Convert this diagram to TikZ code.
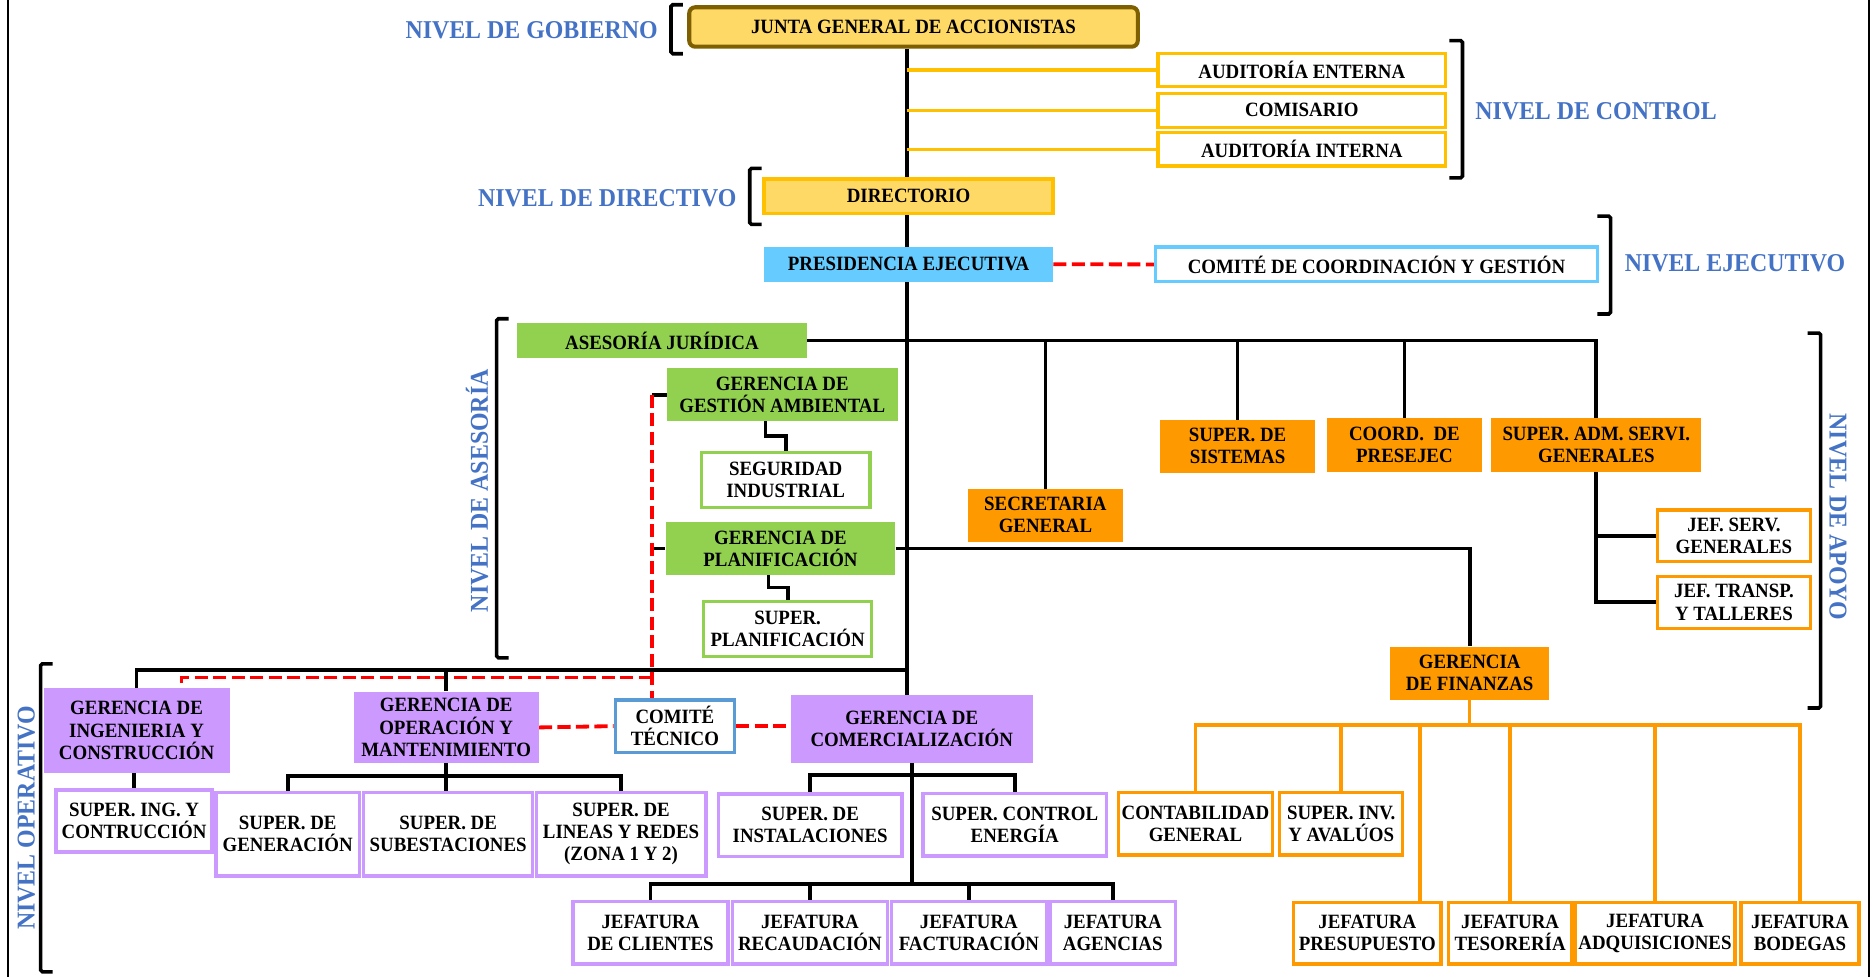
\documentclass[tikz,border=0pt]{standalone}
\usepackage{fontspec}
\setmainfont{Liberation Serif}[FakeStretch=0.93]
\usetikzlibrary{calc}
\pgfdeclarelayer{bg}
\pgfsetlayers{bg,main}
\definecolor{goldfillc}{HTML}{FFD966}
\definecolor{goldc}{HTML}{FFC000}
\definecolor{juntab}{HTML}{7F6000}
\definecolor{lblue}{HTML}{66CCFF}
\definecolor{tecblue}{HTML}{5B9BD5}
\definecolor{greenc}{HTML}{92D050}
\definecolor{orangec}{HTML}{FF9900}
\definecolor{lavc}{HTML}{CC99FF}
\definecolor{lvlblue}{HTML}{4472C4}
\definecolor{redc}{HTML}{FF0000}
\tikzset{
  base/.style={inner sep=0pt, align=center, text=black,
    font=\fontsize{17}{18.5}\selectfont\bfseries},
  juntabox/.style={base, fill=goldfillc, draw=juntab, line width=3.4pt, rounded corners=5pt},
  goldline/.style={base, fill=white, draw=goldc, line width=2.8pt},
  goldfill/.style={base, fill=goldfillc, draw=goldc, line width=2.8pt},
  bluefill/.style={base, fill=lblue},
  blueline/.style={base, fill=white, draw=lblue, line width=2.8pt},
  tecline/.style={base, fill=white, draw=tecblue, line width=2.8pt},
  greenfill/.style={base, fill=greenc},
  greenline/.style={base, fill=white, draw=greenc, line width=2.8pt},
  orfill/.style={base, fill=orangec},
  orline/.style={base, fill=white, draw=orangec, line width=2.8pt},
  lavfill/.style={base, fill=lavc},
  lavline/.style={base, fill=white, draw=lavc, line width=2.8pt},
  conn/.style={draw=black, line width=3.2pt},
  goldconn/.style={draw=goldc, line width=3pt},
  orconn/.style={draw=orangec, line width=3pt},
  dashconn/.style={draw=redc, line width=3.2pt, dash pattern=on 11pt off 4.5pt},
  brk/.style={draw=black, line width=3pt, rounded corners=1.5pt},
  lvl/.style={inner sep=0pt, text=lvlblue, font=\fontsize{21.5}{23}\selectfont\bfseries},
}
\newcommand\orgbox[7]{\node[#2, minimum width={#5-#3}, minimum height={#6-#4}] (#1) at ({(#3+#5)/2},{(#4+#6)/2}) {#7};}
\begin{document}
\begin{tikzpicture}[x=1pt,y=-1pt]
\useasboundingbox (0,0) rectangle (1568,818);
% frame
\draw[line width=2.2pt] (6.7,0) -- (6.7,818);
\draw[line width=2.2pt] (1565.4,0) -- (1565.4,818);
% boxes
\orgbox{junta}{juntabox}{577.3}{6.1}{953}{39.1}{JUNTA GENERAL DE ACCIONISTAS}
\orgbox{audE}{goldline}{969.8}{44.7}{1211}{72.6}{AUDITORÍA ENTERNA}
\orgbox{comis}{goldline}{969.8}{78.2}{1211}{106.6}{COMISARIO}
\orgbox{audI}{goldline}{969.8}{111.1}{1211}{139}{AUDITORÍA INTERNA}
\orgbox{dir}{goldfill}{640}{150}{882}{178.7}{DIRECTORIO}
\orgbox{pres}{bluefill}{640}{206.6}{882}{236}{PRESIDENCIA EJECUTIVA}
\orgbox{ccg}{blueline}{968}{207}{1338}{236}{COMITÉ DE COORDINACIÓN Y GESTIÓN}
\orgbox{aj}{greenfill}{432.9}{270.2}{676}{300.1}{ASESORÍA JURÍDICA}
\orgbox{gamb}{greenfill}{558.6}{308.5}{751.9}{352.6}{GERENCIA DE\\GESTIÓN AMBIENTAL}
\orgbox{seg}{greenline}{587.4}{379.1}{728.7}{424.9}{SEGURIDAD\\INDUSTRIAL}
\orgbox{gplan}{greenfill}{557.5}{437.4}{750}{481.5}{GERENCIA DE\\PLANIFICACIÓN}
\orgbox{splan}{greenline}{589.3}{503.9}{730.2}{549.9}{SUPER.\\PLANIFICACIÓN}
\orgbox{sec}{orfill}{810.6}{409.5}{940.7}{453.6}{SECRETARIA\\GENERAL}
\orgbox{sis}{orfill}{971.7}{351.7}{1101.4}{395.8}{SUPER. DE\\SISTEMAS}
\orgbox{coord}{orfill}{1111.7}{350.3}{1241}{395}{COORD.\ \ DE\\PRESEJEC}
\orgbox{sadm}{orfill}{1249.2}{350.3}{1424.9}{395}{SUPER. ADM. SERVI.\\GENERALES}
\orgbox{jsg}{orline}{1388.2}{427.1}{1516.5}{470.4}{JEF. SERV.\\GENERALES}
\orgbox{jtt}{orline}{1388.2}{482.9}{1516.5}{526.2}{JEF. TRANSP.\\Y TALLERES}
\orgbox{fin}{orfill}{1164.6}{541.6}{1297.4}{586.3}{GERENCIA\\DE FINANZAS}
\orgbox{ing}{lavfill}{36.5}{576.5}{192.3}{647.1}{GERENCIA DE\\INGENIERIA Y\\CONSTRUCCIÓN}
\orgbox{gop}{lavfill}{296.2}{579.3}{451.2}{639.3}{GERENCIA DE\\OPERACIÓN Y\\MANTENIMIENTO}
\orgbox{ctec}{tecline}{515.4}{586.3}{615.2}{630.1}{COMITÉ\\TÉCNICO}
\orgbox{comer}{lavfill}{662.3}{582.1}{865.1}{638.7}{GERENCIA DE\\COMERCIALIZACIÓN}
\orgbox{sing}{lavline}{46.9}{661.6}{177.7}{713.6}{SUPER. ING. Y\\CONTRUCCIÓN}
\orgbox{sgen}{lavline}{180.8}{663.9}{301.2}{733.7}{SUPER. DE\\GENERACIÓN}
\orgbox{ssub}{lavline}{304.6}{663.9}{446.2}{733.7}{SUPER. DE\\SUBESTACIONES}
\orgbox{sred}{lavline}{449.2}{663.9}{591.2}{733.7}{SUPER. DE\\LINEAS Y REDES\\(ZONA 1 Y 2)}
\orgbox{sins}{lavline}{601.7}{665}{755.5}{717.5}{SUPER. DE\\INSTALACIONES}
\orgbox{sce}{lavline}{773.2}{664.4}{926.7}{716.9}{SUPER. CONTROL\\ENERGÍA}
\orgbox{jcli}{lavline}{480}{755.2}{609.7}{807.4}{JEFATURA\\DE CLIENTES}
\orgbox{jrec}{lavline}{613.5}{755.2}{743.3}{807.4}{JEFATURA\\RECAUDACIÓN}
\orgbox{jfac}{lavline}{746.6}{755.2}{876.4}{807.4}{JEFATURA\\FACTURACIÓN}
\orgbox{jage}{lavline}{879.6}{755.2}{984.4}{807.4}{JEFATURA\\AGENCIAS}
\orgbox{cont}{orline}{937}{663.9}{1065.6}{716.1}{CONTABILIDAD\\GENERAL}
\orgbox{sinv}{orline}{1071.8}{663.9}{1174.9}{716.1}{SUPER. INV.\\Y AVALÚOS}
\orgbox{jpre}{orline}{1083.4}{755.7}{1207.1}{807.4}{JEFATURA\\PRESUPUESTO}
\orgbox{jtes}{orline}{1213.3}{755.7}{1316.4}{807.4}{JEFATURA\\TESORERÍA}
\orgbox{jadq}{orline}{1319.2}{755.7}{1453.3}{807.4}{JEFATURA\\ADQUISICIONES}
\orgbox{jbod}{orline}{1458.2}{755.7}{1557.2}{807.4}{JEFATURA\\BODEGAS}
% level labels
\node[lvl, anchor=east] (lgob) at (551,25) {NIVEL DE GOBIERNO};
\node[lvl, anchor=east] (ldir) at (617,166) {NIVEL DE DIRECTIVO};
\node[lvl, anchor=west] (lctl) at (1235.5,93.5) {NIVEL DE CONTROL};
\node[lvl, anchor=west] (leje) at (1360.7,220.5) {NIVEL EJECUTIVO};
\node[lvl, rotate=90] (lase) at (399.5,411) {NIVEL DE ASESORÍA};
\node[lvl, rotate=-90] (lapo) at (1539.4,433) {NIVEL DE APOYO};
\node[lvl, rotate=90] (lope) at (22,685) {NIVEL OPERATIVO};
% brackets
\draw[brk] (572,4) -- (562,4) -- (562,45) -- (572,45);
\draw[brk] (1214,34) -- (1225,34) -- (1225,149) -- (1214,149);
\draw[brk] (638,141) -- (628,141) -- (628,188) -- (638,188);
\draw[brk] (1338,181) -- (1349,181) -- (1349,263) -- (1338,263);
\draw[brk] (426,267) -- (416,267) -- (416,551) -- (426,551);
\draw[brk] (1514,279) -- (1525,279) -- (1525,593) -- (1514,593);
\draw[brk] (44,556) -- (34,556) -- (34,814) -- (44,814);
% helper coordinates
\coordinate (mx) at (759.4,0);
\coordinate (rx) at (546,0);
\coordinate (ry) at (152,567.5);
\coordinate (opbus) at (0,561.1);
\coordinate (gbus) at (0,649.9);
\coordinate (cbus) at (0,649);
\coordinate (jbus) at (0,740.6);
\coordinate (fbus) at (0,607.2);
\coordinate (jpx) at (1189.3,0);
% connectors
\begin{pgfonlayer}{bg}
\draw[conn] (junta.south -| mx) -- (comer.north -| mx);
\draw[goldconn] (mx |- audE.west) -- (audE.west);
\draw[goldconn] (mx |- comis.west) -- (comis.west);
\draw[goldconn] (mx |- audI.west) -- (audI.west);
\draw[dashconn] (pres.east) -- (ccg.west);
\draw[conn] (aj.east) -| (sadm.north);
\draw[conn] (sec.north) -- (sec.north |- aj.east);
\draw[conn] (sis.north) -- (sis.north |- aj.east);
\draw[conn] (coord.north) -- (coord.north |- aj.east);
\draw[conn] (sadm.south) |- (jsg.west);
\draw[conn] (sadm.south) |- (jtt.west);
\draw[conn] (rx |- gamb.west) -- (gamb.west);
\draw[conn] (rx |- gplan.west) -- (gplan.west);
\draw[conn] (gplan.east) -| (fin.north);
\draw[conn] ([xshift=-14pt]gamb.south) |- ($(seg.north)!0.5!([xshift=-14pt]gamb.south)$) -| (seg.north);
\draw[conn] ([xshift=-10pt]gplan.south) |- ($(splan.north)!0.5!([xshift=-10pt]gplan.south)$) -| (splan.north);
\draw[dashconn] (rx |- gamb.west) -- (rx |- ctec.north);
\draw[dashconn] (rx |- ry) -- (ry) -- (ry |- ing.north);
\draw[conn] (ing.north) |- (mx |- opbus);
\draw[conn] (gop.north) -- (gop.north |- opbus);
\draw[conn] (sing.north) -- (sing.north |- ing.south);
\draw[conn] (sgen.north) |- (sred.north |- gbus) -- (sred.north);
\draw[conn] (gop.south) -- (gop.south |- ssub.north);
\draw[dashconn] (gop.east) -- (ctec.west);
\draw[dashconn] (ctec.east) -- (comer.west |- ctec.east);
\draw[conn] (sins.north) |- (sce.north |- cbus) -- (sce.north);
\draw[conn] (comer.south) -- (comer.south |- jbus);
\draw[conn] (jcli.north) |- (jage.north |- jbus) -- (jage.north);
\draw[conn] (jrec.north) -- (jrec.north |- jbus);
\draw[conn] (jfac.north) -- (jfac.north |- jbus);
\draw[orconn] (fin.south) -- (fin.south |- fbus);
\draw[orconn] (cont.north) |- (jbod.north |- fbus) -- (jbod.north);
\draw[orconn] (sinv.north) -- (sinv.north |- fbus);
\draw[orconn] (jpx |- jpre.north) -- (jpx |- fbus);
\draw[orconn] (jtes.north) -- (jtes.north |- fbus);
\draw[orconn] (jadq.north) -- (jadq.north |- fbus);
\end{pgfonlayer}
\end{tikzpicture}
\end{document}
